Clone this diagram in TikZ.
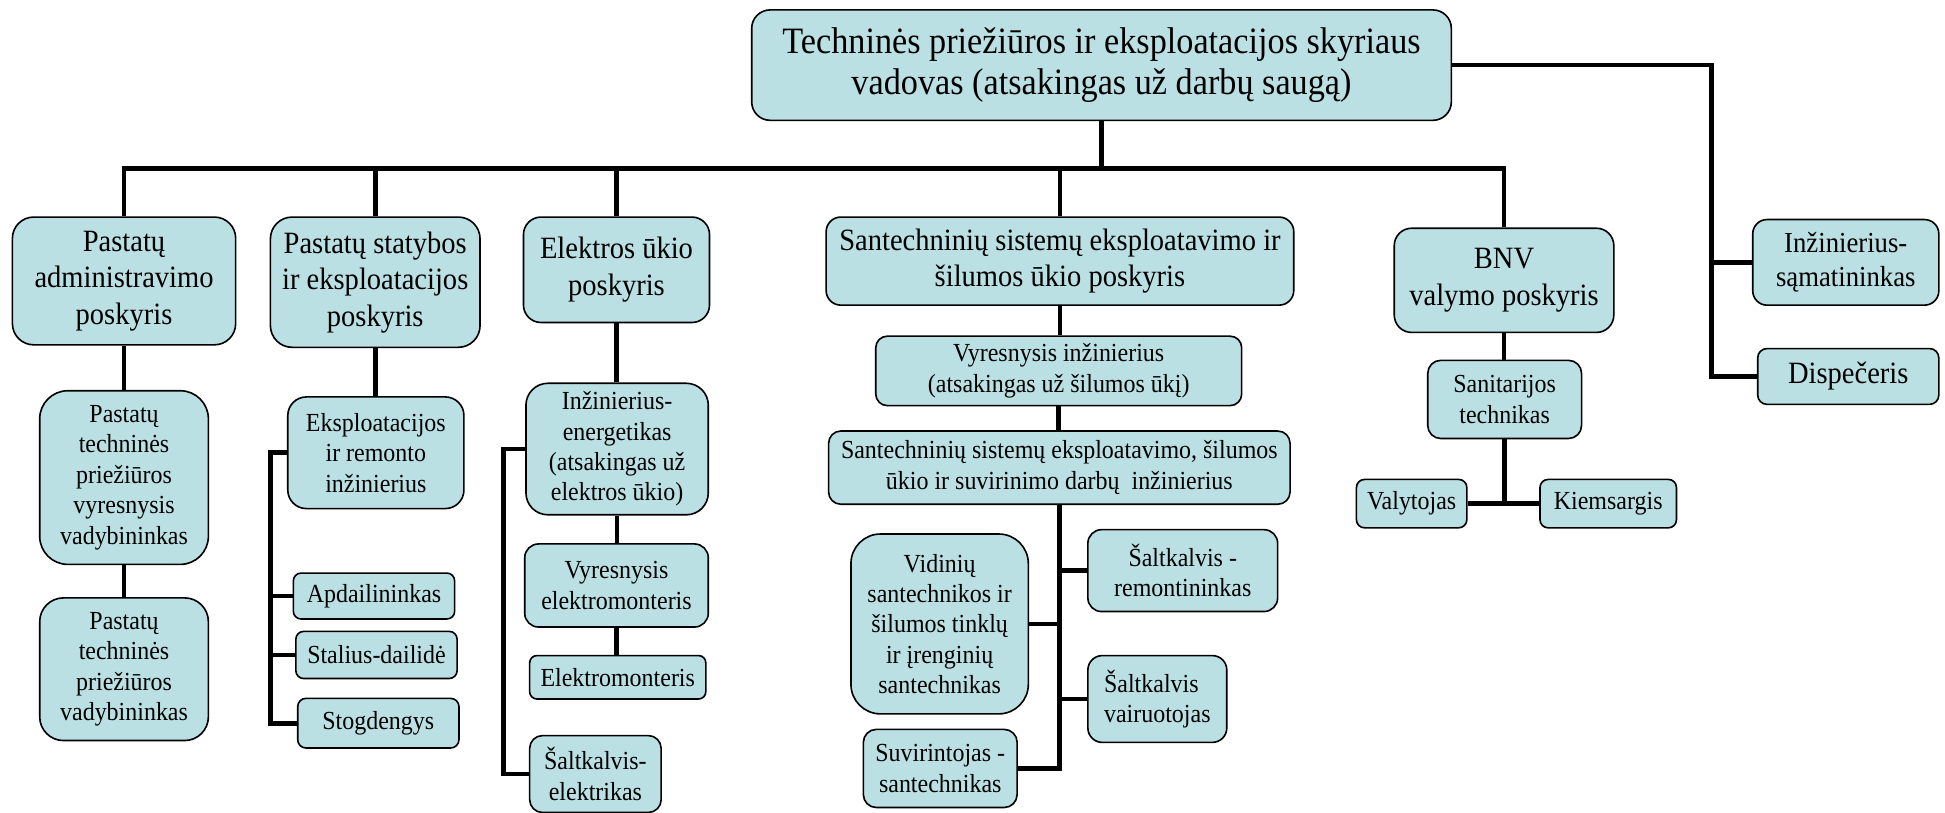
\documentclass[tikz,border=0pt]{standalone}
\usepackage{fontspec}
\setmainfont{Liberation Serif}[FakeStretch=0.92]
\definecolor{boxfill}{RGB}{187,224,227}
\newcommand{\chieffont}{\fontsize{30}{33}\selectfont}
\newcommand{\deptfont}{\fontsize{25}{29.5}\selectfont}
\newcommand{\sideptfont}{\fontsize{23.4}{28}\selectfont}
\newcommand{\stafffont}{\fontsize{21}{24.5}\selectfont}
\begin{document}
\begin{tikzpicture}[x=1pt,y=-1pt,
  box/.style 2 args={draw, line width=1.3pt, fill=boxfill, inner sep=1pt, align=center,
    minimum width=#1, minimum height=#2, rounded corners={min(#1,#2)/6}},
  chief/.style={font=\chieffont},
  dept/.style={font=\deptfont},
  staff/.style={font=\stafffont},
  link/.style={line width=3.8pt}]
\useasboundingbox (0,0) rectangle (1568,655);
% vadovas
\node[box={564}{89}, chief] (head) at (888,52.5){Techninės priežiūros ir eksploatacijos skyriaus\\vadovas (atsakingas už darbų saugą)};
% poskyriai
\node[box={180}{103}, dept] (adm) at (100,226.5){Pastatų\\administravimo\\poskyris};
\node[box={169}{105}, dept] (stat) at (302.5,227.5){Pastatų statybos\\ir eksploatacijos\\poskyris};
\node[box={150}{85}, dept] (elek) at (497,217.5){Elektros ūkio\\poskyris};
\node[box={377}{71}, dept] (sant) at (854.5,210.5){Santechninių sistemų eksploatavimo ir\\šilumos ūkio poskyris};
\node[box={177}{84}, dept] (bnv) at (1212.5,226){BNV\\valymo poskyris};
\node[box={150}{69}, font=\sideptfont] (inz) at (1488,211.5){Inžinierius-\\sąmatininkas};
\node[box={146}{45}, dept] (disp) at (1490,303.5){Dispečeris};
% pastatu administravimas
\node[box={136}{140}, staff] (pvyr) at (100,385){Pastatų\\techninės\\priežiūros\\vyresnysis\\vadybininkas};
\node[box={136}{115}, staff] (pvad) at (100,539.5){Pastatų\\techninės\\priežiūros\\vadybininkas};
% statyba
\node[box={142}{90}, staff] (eksp) at (303,365){Eksploatacijos\\ir remonto\\inžinierius};
\node[box={130}{37}, staff] (apd) at (301.5,480.5){Apdailininkas};
\node[box={130}{38}, staff] (stal) at (303.5,528){Stalius-dailidė};
\node[box={130}{40}, staff] (stog) at (305,583){Stogdengys};
% elektra
\node[box={147}{106}, staff] (ener) at (497.5,362){Inžinierius-\\energetikas\\(atsakingas už\\elektros ūkio)};
\node[box={148}{67}, staff] (vyrel) at (497,472){Vyresnysis\\elektromonteris};
\node[box={142}{35}, staff] (elmon) at (498,546){Elektromonteris};
\node[box={106}{62}, staff] (salel) at (480,624){Šaltkalvis-\\elektrikas};
% santechnika
\node[box={295}{56}, staff] (svyr) at (853.5,299){Vyresnysis inžinierius\\(atsakingas už šilumos ūkį)};
\node[box={372}{59}, staff] (sinz) at (854,377){Santechninių sistemų eksploatavimo, šilumos\\ūkio ir suvirinimo darbų~ inžinierius};
\node[box={143}{145}, staff] (vid) at (757.5,503){Vidinių\\santechnikos ir\\šilumos tinklų\\ir įrenginių\\santechnikas};
\node[box={153}{66}, staff] (srem) at (953.5,460){Šaltkalvis -\\remontininkas};
\node[box={112}{70}, staff, align=left] (svai) at (933,563.5){Šaltkalvis\\vairuotojas};
\node[box={124}{63}, staff] (suv) at (758,619.5){Suvirintojas -\\santechnikas};
% valymas
\node[box={124}{63}, staff] (sanit) at (1213,322){Sanitarijos\\technikas};
\node[box={89}{39}, staff] (valyt) at (1138,406){Valytojas};
\node[box={110}{39}, staff] (kiem) at (1296.5,406){Kiemsargis};
% jungtys
\draw[link] (head.south) -- ++(0,38) coordinate (busc);
\draw[link] (adm.north) |- (busc) -| (bnv.north);
\draw[link] (stat.north) -- (stat.north |- busc);
\draw[link] (elek.north) -- (elek.north |- busc);
\draw[link] (sant.north) -- (sant.north |- busc);
\coordinate (rtr) at (1380,0);
\draw[link] (head.east) -| (rtr |- disp.west) -- (disp.west);
\draw[link] (rtr |- inz.west) -- (inz.west);
\draw[link] (adm) -- (pvyr);
\draw[link] (pvyr) -- (pvad);
\draw[link] (stat.south) -- (stat.south |- eksp.north);
\coordinate (c2) at (218,0);
\draw[link] (eksp.west) -| (c2 |- stog.west) -- (stog.west);
\draw[link] (c2 |- apd.west) -- (apd.west);
\draw[link] (c2 |- stal.west) -- (stal.west);
\draw[link] (elek.south) -- (elek.south |- ener.north);
\draw[link] (ener.south) -- (ener.south |- vyrel.north);
\draw[link] (vyrel.south) -- (vyrel.south |- elmon.north);
\coordinate (c3) at (406,0);
\draw[link] (ener.west) -| (c3 |- salel.west) -- (salel.west);
\draw[link] (sant.south) -- (sant.south |- svyr.north);
\draw[link] (svyr.south) -- (svyr.south |- sinz.north);
\draw[link] (sinz.south) -- (sinz.south |- suv.east) -- (suv.east);
\draw[link] (sinz.south |- vid.east) -- (vid.east);
\draw[link] (sinz.south |- srem.west) -- (srem.west);
\draw[link] (sinz.south |- svai.west) -- (svai.west);
\draw[link] (bnv.south) -- (bnv.south |- sanit.north);
\draw[link] (sanit.south) -- (sanit.south |- valyt.east);
\draw[link] (valyt.east) -- (kiem.west);
\end{tikzpicture}
\end{document}
